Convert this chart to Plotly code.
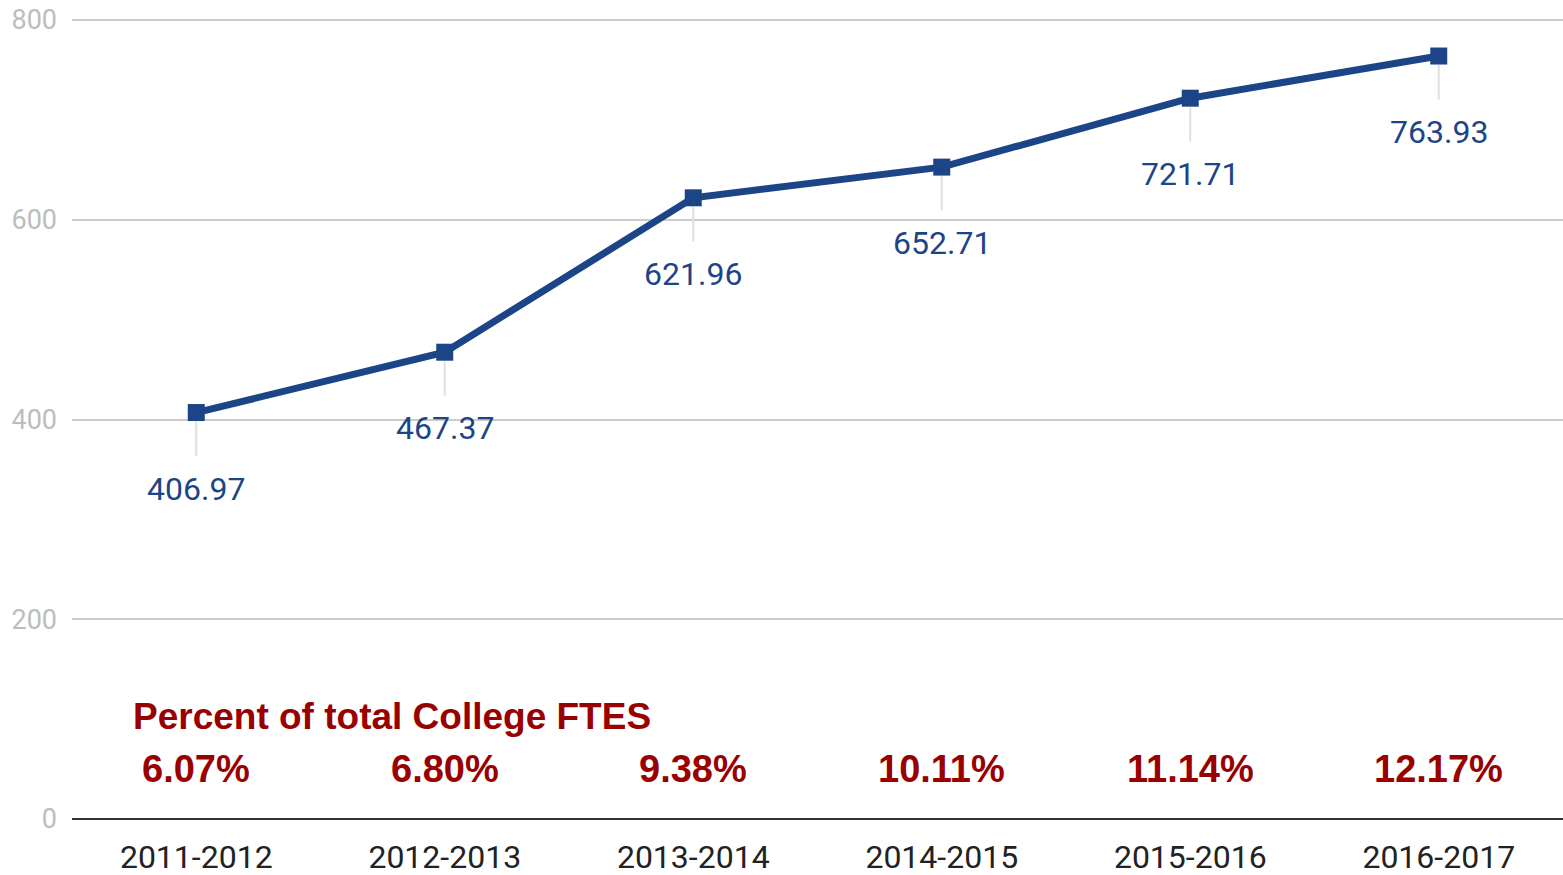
import plotly.graph_objects as go

years = ["2011-2012", "2012-2013", "2013-2014", "2014-2015", "2015-2016", "2016-2017"]
ftes = [406.97, 467.37, 621.96, 652.71, 721.71, 763.93]
percents = ["6.07%", "6.80%", "9.38%", "10.11%", "11.14%", "12.17%"]
y_ticks = [0, 200, 400, 600, 800]
pct_title = "Percent of total College FTES"

LINE = "#1c4587"
RED = "#990000"

fig = go.Figure()
fig.add_trace(go.Scatter(
    x=years, y=ftes, mode="lines+markers",
    line=dict(color=LINE, width=7),
    marker=dict(symbol="square", size=17, color=LINE),
    hoverinfo="skip", showlegend=False,
))

annotations = []
for yr, v in zip(years, ftes):
    annotations.append(dict(
        x=yr, y=v, xref="x", yref="y", text=f"{v:.2f}",
        showarrow=True, arrowhead=0, arrowwidth=2, arrowcolor="#e0e0e0",
        ax=0, ay=76, standoff=9, startstandoff=12,
        font=dict(family="Roboto", size=32, color=LINE),
    ))
for yr, p in zip(years, percents):
    annotations.append(dict(
        x=yr, y=50, xref="x", yref="y", text=f"<b>{p}</b>", showarrow=False,
        font=dict(family="Liberation Sans, Arial", size=38, color=RED),
    ))
annotations.append(dict(
    x=-0.262, y=103, xref="x", yref="y", xanchor="left", text=f"<b>{pct_title}</b>",
    showarrow=False, font=dict(family="Liberation Sans, Arial", size=37, color=RED),
))

fig.update_layout(
    width=1563, height=875,
    margin=dict(l=72, r=0, t=16, b=56),
    paper_bgcolor="white", plot_bgcolor="white",
    annotations=annotations,
    xaxis=dict(
        type="category", range=[-0.5, 5.5], showgrid=False, zeroline=False,
        showline=False, ticks="", ticklabelstandoff=16,
        tickfont=dict(family="Roboto", size=32, color="#222222"),
        automargin=False,
    ),
    yaxis=dict(
        range=[0, 804], tickvals=y_ticks, showgrid=True, gridcolor="#cccccc",
        gridwidth=2, zeroline=True, zerolinecolor="#333333", zerolinewidth=2,
        showline=False, ticks="", ticklabelstandoff=14, ticklabeloverflow="allow",
        tickfont=dict(family="Roboto", size=27, color="#bdbdbd"),
        automargin=False,
    ),
)

fig.write_html(
    "out.html",
    config={"displayModeBar": False, "staticPlot": True},
    post_script="document.body.style.margin='0';document.body.style.overflow='hidden';",
)
